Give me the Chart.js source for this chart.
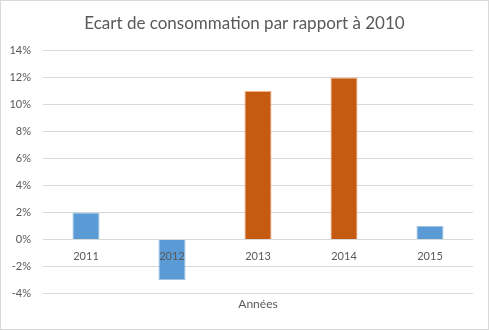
<!DOCTYPE html>
<html>
<head>
<meta charset="utf-8">
<script src="https://cdn.jsdelivr.net/npm/chart.js@4"></script>
<style>
    html, body { margin: 0; padding: 0; background: #fff; }
    #wrap { width: 487px; height: 328px; border: 1px solid #d9d9d9; }
</style>
</head>
<body>
<div id="wrap"><canvas id="ecartChart" width="487" height="328"></canvas></div>
<script>
const annees = ["2011", "2012", "2013", "2014", "2015"];
const ecarts = [2, -3, 11, 12, 1];
const enHausse = [false, false, true, true, false];

const bleu = "#5b9bd5";
const orange = "#c55a11";

const ctx = document.getElementById("ecartChart").getContext("2d");

new Chart(ctx, {
    type: 'bar',
    data: {
        labels: annees,
        datasets: [{
            data: ecarts,
            backgroundColor: enHausse.map(h => h ? orange : bleu),
            borderColor: enHausse.map(h => h ? "#f4b183" : "#9dc3e6"),
            borderWidth: 1,
            barPercentage: 0.63,
            categoryPercentage: 0.5
        }]
    },
    options: {
        responsive: false,
        animation: false,
        layout: { padding: { left: 8, right: 8, top: 0, bottom: 18 } },
        plugins: {
            legend: { display: false },
            tooltip: { enabled: false },
            title: {
                display: true,
                text: "Ecart de consommation par rapport à 2010",
                color: "#595959",
                font: { family: "Lato", size: 17, weight: 'normal' },
                padding: { top: 12, bottom: 17 }
            }
        },
        scales: {
            x: {
                position: { y: 0 },
                grid: { display: false },
                border: { display: false },
                ticks: { z: 1, color: "#595959", font: { family: "Lato", size: 11 }, padding: 2 }
            },
            x2: {
                type: 'category',
                labels: annees,
                position: 'bottom',
                grid: { display: false, drawTicks: false },
                border: { display: false },
                ticks: { display: false },
                title: {
                    display: true,
                    text: "Années",
                    color: "#595959",
                    font: { family: "Lato", size: 12 },
                    padding: { top: 3, bottom: 0 }
                }
            },
            y: {
                min: -4,
                max: 14,
                grid: { color: "#d9d9d9", drawTicks: false },
                border: { display: false },
                afterFit: s => { s.width = 34; },
                ticks: {
                    stepSize: 2,
                    color: "#595959",
                    font: { family: "Lato", size: 11 },
                    padding: 12,
                    callback: v => v + "%"
                }
            },
            yDroite: {
                position: 'right',
                grid: { display: false, drawTicks: false },
                border: { display: false },
                ticks: { display: false },
                afterFit: s => { s.width = 7; }
            }
        }
    }
});
</script>
</body>
</html>
